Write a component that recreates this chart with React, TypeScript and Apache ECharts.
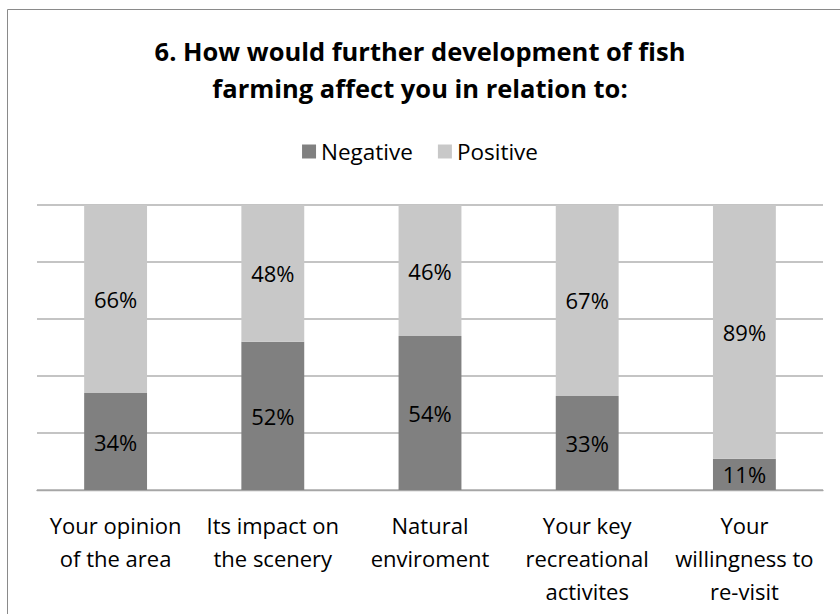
import React, { useEffect, useRef } from "react";
import * as echarts from "echarts";

const titleText = "6. How would further development of fish\nfarming affect you in relation to:";
const categories = [
  "Your opinion\nof the area",
  "Its impact on\nthe scenery",
  "Natural\nenviroment",
  "Your key\nrecreational\nactivites",
  "Your\nwillingness to\nre-visit",
];
const negativeValues = [34, 52, 54, 33, 11];
const positiveValues = [66, 48, 46, 67, 89];
const seriesNames = ["Negative", "Positive"];

const FONT = "'Open Sans', 'DejaVu Sans', sans-serif";

export default function App() {
  const ref = useRef<HTMLDivElement>(null);
  useEffect(() => {
    if (!ref.current) return;
    const chart = echarts.init(ref.current, null, { renderer: "svg" });
    const labelCfg = {
      show: true,
      position: "inside",
      formatter: "{c}%",
      color: "#000",
      fontSize: 22,
      fontFamily: FONT,
    };
    chart.setOption({
      animation: false,
      backgroundColor: "#fff",
      textStyle: { fontFamily: FONT },
      graphic: [
        {
          type: "rect",
          silent: true,
          z: -1,
          shape: { x: 7.5, y: 9.5, width: 1000, height: 1000 },
          style: { fill: "none", stroke: "#8a8a8a", lineWidth: 1 },
        },
        {
          type: "text",
          silent: true,
          x: 420,
          y: 32,
          style: {
            text: titleText,
            textAlign: "center",
            textVerticalAlign: "top",
            fontFamily: FONT,
            fontWeight: "bold",
            fontSize: 25.5,
            lineHeight: 37,
            fill: "#000",
          },
        },
      ],
      legend: {
        data: seriesNames,
        top: 135,
        left: "center",
        itemWidth: 14,
        itemHeight: 14,
        itemGap: 25,
        icon: "rect",
        textStyle: { fontFamily: FONT, fontSize: 22.5, color: "#000" },
      },
      grid: { left: 37, right: 17, top: 205, bottom: 124, containLabel: false },
      xAxis: {
        type: "category",
        data: categories,
        axisLine: { lineStyle: { color: "#a6a6a6", width: 1.3 } },
        axisTick: { length: 8, lineStyle: { color: "#a6a6a6", width: 1.3 } },
        axisLabel: {
          interval: 0,
          margin: 18,
          fontFamily: FONT,
          fontSize: 22,
          lineHeight: 33,
          color: "#000",
        },
      },
      yAxis: {
        type: "value",
        min: 0,
        max: 100,
        interval: 20,
        axisLabel: { show: false },
        axisLine: { show: false },
        axisTick: { show: false },
        splitLine: { lineStyle: { color: "#b0b0b0", width: 1.5 } },
      },
      series: [
        {
          name: seriesNames[0],
          type: "bar",
          stack: "total",
          barWidth: "40%",
          data: negativeValues,
          itemStyle: { color: "#808080" },
          label: labelCfg,
        },
        {
          name: seriesNames[1],
          type: "bar",
          stack: "total",
          barWidth: "40%",
          data: positiveValues,
          itemStyle: { color: "#c8c8c8" },
          label: labelCfg,
        },
      ],
    });
    return () => chart.dispose();
  }, []);
  return (
    <div
      ref={ref}
      style={{ position: "fixed", left: 0, top: 0, width: 840, height: 614 }}
    />
  );
}
